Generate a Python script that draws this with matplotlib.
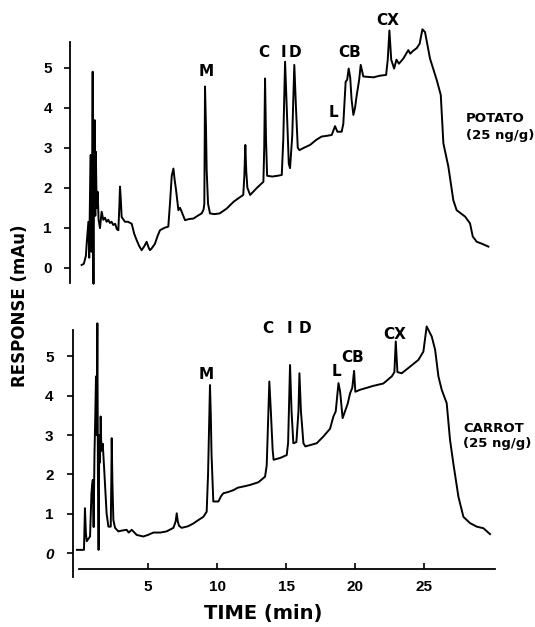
import matplotlib
matplotlib.use("Agg")
import matplotlib.pyplot as plt

# -------------------------
# Data
# -------------------------
potato_time = [0.19, 0.35, 0.50, 0.56, 0.68, 0.74, 0.80, 0.85, 0.90, 0.95, 0.99, 1.02, 1.05, 1.09,
               1.14, 1.18, 1.22, 1.28, 1.35, 1.42, 1.52, 1.64, 1.76, 1.88, 2.00, 2.12, 2.24, 2.36,
               2.48, 2.62, 2.75, 2.85, 2.92, 2.97, 3.03, 3.09, 3.33, 3.55, 3.82, 4.00, 4.18, 4.35,
               4.54, 4.75, 4.90, 5.05, 5.14, 5.30, 5.50, 5.70, 5.87, 6.20, 6.47, 6.59, 6.72, 6.84,
               6.93, 7.03, 7.20, 7.32, 7.44, 7.68, 8.00, 8.29, 8.60, 8.89, 9.02, 9.08, 9.13, 9.20,
               9.25, 9.35, 9.49, 9.80, 10.20, 10.70, 11.20, 11.60, 11.90, 11.98, 12.05, 12.12,
               12.20, 12.40, 12.90, 13.36, 13.42, 13.48, 13.55, 13.63, 14.00, 14.40, 14.69, 14.80,
               14.93, 15.05, 15.20, 15.29, 15.45, 15.60, 15.72, 15.85, 15.97, 16.30, 16.74, 17.20,
               17.58, 18.00, 18.31, 18.55, 18.72, 19.03, 19.15, 19.32, 19.43, 19.54, 19.65, 19.75,
               19.88, 20.00, 20.12, 20.30, 20.41, 20.60, 21.00, 21.33, 21.80, 22.25, 22.37, 22.49,
               22.62, 22.83, 23.00, 23.18, 23.50, 23.86, 24.00, 24.20, 24.47, 24.68, 24.88, 25.07,
               25.43, 25.92, 26.21, 26.40, 26.76, 27.12, 27.36, 27.97, 28.33, 28.53, 28.82, 29.20,
               29.66]
potato_resp = [0.07, 0.10, 0.30, 0.62, 1.15, 0.25, 1.90, 2.82, 0.40, 1.50, 4.90, 1.00, -0.40, 2.20,
               3.69, 1.30, 2.90, 1.50, 1.90, 1.20, 0.99, 1.40, 1.20, 1.25, 1.15, 1.20, 1.12, 1.15,
               1.07, 1.10, 0.96, 0.94, 1.50, 2.03, 1.70, 1.27, 1.15, 1.15, 1.10, 0.85, 0.69, 0.55,
               0.44, 0.55, 0.65, 0.50, 0.44, 0.50, 0.60, 0.80, 0.94, 1.00, 1.03, 1.60, 2.30, 2.48,
               2.20, 1.95, 1.44, 1.50, 1.40, 1.19, 1.22, 1.23, 1.30, 1.36, 1.45, 1.60, 4.53, 3.50,
               2.44, 1.60, 1.36, 1.34, 1.36, 1.48, 1.65, 1.75, 1.82, 2.30, 3.07, 2.40,
               2.00, 1.82, 2.00, 2.15, 3.00, 4.73, 3.20, 2.30, 2.28, 2.30, 2.32, 3.20,
               5.15, 4.00, 2.60, 2.49, 3.30, 5.07, 4.00, 3.00, 2.94, 3.00, 3.07, 3.20,
               3.28, 3.30, 3.32, 3.54, 3.40, 3.40, 3.60, 4.65, 4.70, 4.98, 4.75, 4.20,
               3.82, 4.00, 4.31, 4.70, 5.07, 4.78, 4.77, 4.76, 4.80, 4.82, 5.20, 5.93,
               5.20, 4.98, 5.20, 5.10, 5.23, 5.44, 5.35, 5.42, 5.49, 5.60, 5.96, 5.89,
               5.23, 4.69, 4.32, 3.11, 2.53, 1.69, 1.44, 1.28, 1.11, 0.78, 0.65, 0.60,
               0.53]

carrot_time = [-0.15, 0.36, 0.43, 0.50, 0.56, 0.80, 0.90, 0.94, 1.00, 1.06, 1.12, 1.18, 1.23, 1.28,
               1.33, 1.37, 1.42, 1.47, 1.52, 1.57, 1.62, 1.72, 1.78, 1.84, 2.00, 2.13, 2.30, 2.34,
               2.37, 2.42, 2.49, 2.61, 2.85, 3.10, 3.45, 3.60, 3.82, 4.18, 4.66, 5.00, 5.39, 5.90,
               6.35, 6.84, 7.00, 7.08, 7.16, 7.25, 7.44, 7.90, 8.28, 8.70, 9.01, 9.25, 9.35, 9.49,
               9.55, 9.60, 9.73, 10.10, 10.30, 10.46, 10.80, 11.20, 11.50, 11.90, 12.39, 13.00,
               13.48, 13.60, 13.79, 13.90, 14.03, 14.10, 14.60, 15.05, 15.15, 15.29, 15.40, 15.53,
               15.75, 15.90, 15.97, 16.08, 16.26, 16.40, 17.22, 17.70, 18.19, 18.43, 18.60, 18.80,
               18.92, 19.10, 19.47, 19.64, 19.80, 19.93, 20.02, 20.36, 21.33, 22.05, 22.66, 22.85,
               22.95, 23.07, 23.38, 23.99, 24.59, 24.95, 25.19, 25.56, 25.80, 26.04, 26.28, 26.64,
               26.88, 27.12, 27.49, 27.85, 28.33, 28.82, 29.30, 29.78]
carrot_resp = [0.08, 0.08, 1.14, 0.50, 0.30, 0.42, 1.50, 1.69, 1.86, 0.66, 2.50, 3.50, 4.49, 3.00,
               5.84, 2.00, 0.08, 3.00, 2.30, 3.47, 2.60, 2.78, 2.40, 2.03, 1.00, 0.67, 0.67, 1.80,
               2.92, 1.80, 0.84, 0.64, 0.55, 0.57, 0.59, 0.52, 0.59, 0.46, 0.42, 0.46, 0.52, 0.52,
               0.55, 0.64, 0.80, 1.01, 0.80, 0.69, 0.64, 0.68, 0.75, 0.85, 0.92, 1.05, 2.00, 4.27,
               3.50, 2.53, 1.31, 1.31, 1.45, 1.52, 1.55, 1.60, 1.66, 1.69, 1.73, 1.80,
               1.94, 2.23, 4.36, 3.60, 2.62, 2.37, 2.42, 2.49, 2.80, 4.78, 3.60, 2.79,
               2.82, 3.60, 4.57, 3.60, 2.79, 2.71, 2.79, 2.96, 3.16, 3.47, 3.60, 4.32,
               4.10, 3.43, 3.80, 4.06, 4.20, 4.63, 4.10, 4.15, 4.25, 4.31, 4.49, 4.60,
               5.38, 4.60, 4.57, 4.74, 4.91, 5.12, 5.76, 5.50, 5.17, 4.49, 4.15, 3.81,
               2.88, 2.28, 1.43, 0.92, 0.76, 0.67, 0.63, 0.48]

peak_names = ["M", "C", "I", "D", "L", "CB", "CX"]
# label anchor points (time, response) above each peak
potato_label_t = [9.18, 13.41, 14.78, 15.65, 18.40, 19.64, 22.40]
potato_label_v = [4.90, 5.39, 5.39, 5.39, 3.89, 5.37, 6.17]
carrot_label_t = [9.25, 13.70, 15.22, 16.38, 18.62, 19.86, 22.90]
carrot_label_v = [4.53, 5.72, 5.72, 5.72, 4.61, 4.96, 5.55]

y_ticks = [0, 1, 2, 3, 4, 5]
x_ticks = [5, 10, 15, 20, 25]

W, H = 535, 627
BOLD = "DejaVu Sans"
TICKFONT = "Liberation Sans"


def px_box(left, right, top, bottom):
    return [left / W, 1 - bottom / H, (right - left) / W, (bottom - top) / H]


def style_axis(ax, ypad):
    for s in ("top", "right"):
        ax.spines[s].set_visible(False)
    ax.spines["left"].set_linewidth(1.3)
    ax.set_yticks(y_ticks)
    ax.tick_params(axis="y", direction="out", length=4, width=1.2, pad=ypad, labelsize=11)
    for lab in ax.get_yticklabels():
        lab.set_fontfamily(TICKFONT)
        lab.set_fontweight("bold")


fig = plt.figure(figsize=(W / 100, H / 100), dpi=100)

# -------------------------
# Top: potato
# -------------------------
ax1 = fig.add_axes(px_box(70, 495, 41.7, 283))
ax1.plot(potato_time, potato_resp, color="black", lw=1.4, clip_on=False)
ax1.set_xlim(-0.652, 30.14)
ax1.set_ylim(-0.38, 5.65)
style_axis(ax1, 9)
ax1.spines["bottom"].set_visible(False)
ax1.set_xticks([])
for name, t, v in zip(peak_names, potato_label_t, potato_label_v):
    ax1.text(t, v, name, ha="center", va="center", fontsize=11, fontweight="bold",
             family=BOLD, clip_on=False)

# -------------------------
# Bottom: carrot
# -------------------------
ax2 = fig.add_axes(px_box(73, 495, 330, 577))
ax2.plot(carrot_time, carrot_resp, color="black", lw=1.4, clip_on=False)
ax2.set_xlim(-0.435, 30.14)
ax2.set_ylim(-0.61, 5.67)
style_axis(ax2, 10)
ax2.spines["bottom"].set_position(("data", -0.41))
ax2.spines["bottom"].set_bounds(0, 30.14)
ax2.spines["bottom"].set_linewidth(1.3)
ax2.set_xticks(x_ticks)
ax2.tick_params(axis="x", direction="in", length=4, width=1.2, pad=8, labelsize=11)
for lab in ax2.get_xticklabels():
    lab.set_fontfamily(TICKFONT)
    lab.set_fontweight("bold")
ax2.get_yticklabels()[0].set_style("italic")
for name, t, v in zip(peak_names, carrot_label_t, carrot_label_v):
    ax2.text(t, v, name, ha="center", va="center", fontsize=11, fontweight="bold",
             family=BOLD, clip_on=False)

# sample labels on the right
fig.text(466 / W, 1 - 118 / H, "POTATO", ha="left", va="center", fontsize=9.5,
         fontweight="bold", family=BOLD)
fig.text(466 / W, 1 - 135 / H, "(25 ng/g)", ha="left", va="center", fontsize=9.5,
         fontweight="bold", family=BOLD)
fig.text(463 / W, 1 - 428 / H, "CARROT", ha="left", va="center", fontsize=9.5,
         fontweight="bold", family=BOLD)
fig.text(463 / W, 1 - 444 / H, "(25 ng/g)", ha="left", va="center", fontsize=9.5,
         fontweight="bold", family=BOLD)

# shared axis titles
fig.text(20 / W, 1 - 306 / H, "RESPONSE (mAu)", rotation=90, ha="center", va="center",
         fontsize=12, fontweight="bold", family=BOLD)
fig.text(262.7 / W, 1 - 613 / H, "TIME (min)", ha="center", va="center",
         fontsize=14, fontweight="bold", family=BOLD)

fig.savefig("out.png", dpi=100)
plt.close(fig)
